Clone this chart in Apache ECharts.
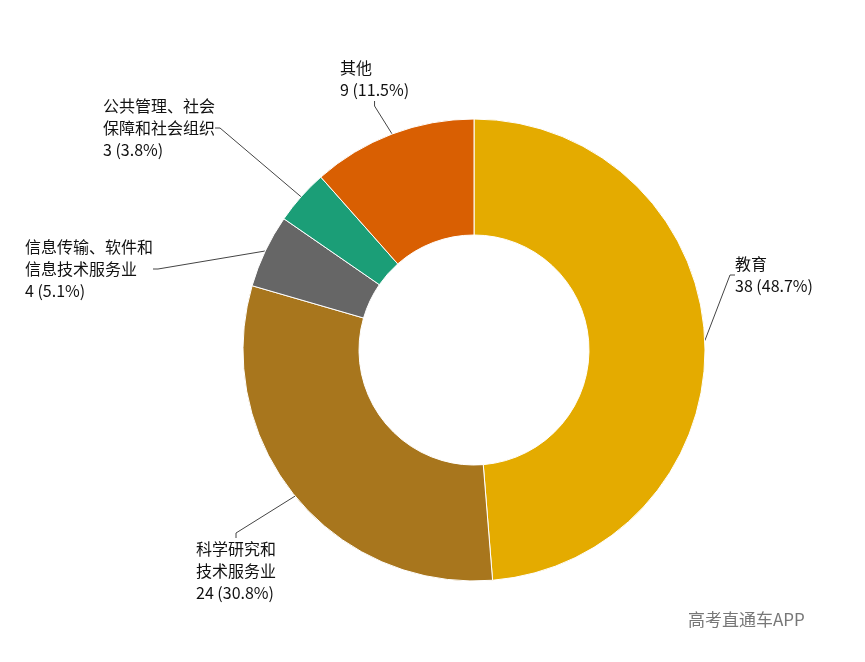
<!DOCTYPE html>
<html><head><meta charset="utf-8">
<script src="https://cdn.jsdelivr.net/npm/echarts@6/dist/echarts.min.js"></script>
<style>html,body{margin:0;background:#fff}#c{width:865px;height:662px}</style>
</head><body><div id="c"></div>
<script>
const categories = ['教育','科学研究和\n技术服务业','信息传输、软件和\n信息技术服务业','公共管理、社会\n保障和社会组织','其他'];
const values = [38,24,4,3,9];
const colors = ['#E4AB00','#A8761D','#666666','#1B9E77','#D95F02'];
const labelPos = [[735,253],[196,538],[25,236],[103,95],[340,57]];
const chart = echarts.init(document.getElementById('c'));
chart.setOption({
  animation:false,
  graphic:[{type:'text',left:688,top:611,style:{text:'高考直通车APP',fill:'#777',font:'17px "Noto Sans CJK SC"'}}],
  series:[{
    type:'pie', center:[474,350], radius:[115,231], startAngle:90, clockwise:true,
    itemStyle:{borderColor:'#fff',borderWidth:1},
    data:categories.map((n,i)=>({name:n,value:values[i],itemStyle:{color:colors[i]}})),
    label:{formatter:p=>p.name+'\n'+p.value+' ('+p.percent.toFixed(1)+'%)',color:'#111',fontSize:16,lineHeight:22,
      fontFamily:'"Noto Sans CJK SC", "Liberation Sans"',align:'left'},
    labelLine:{lineStyle:{color:'#444',width:1},length:15,length2:5},
    labelLayout:p=>({x:labelPos[p.dataIndex][0],y:labelPos[p.dataIndex][1],align:'left',verticalAlign:'top'})
  }]
});
</script></body></html>
